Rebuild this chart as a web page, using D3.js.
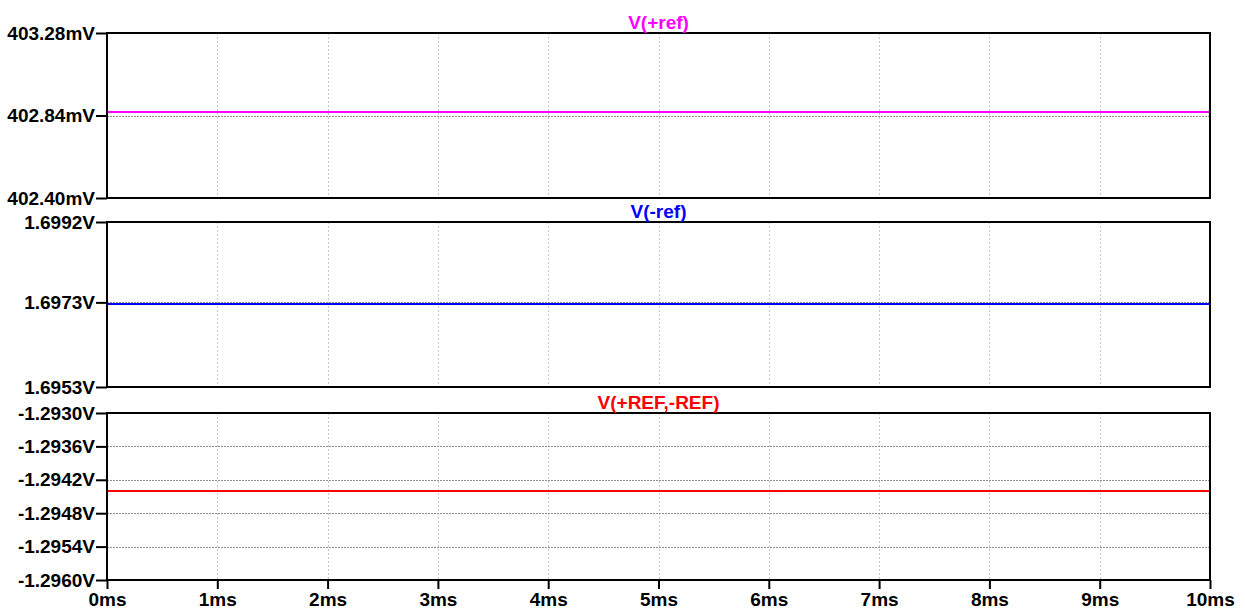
<!DOCTYPE html>
<html><head><meta charset="utf-8">
<script src="https://cdn.jsdelivr.net/npm/d3@7"></script>
<style>
html,body{margin:0;padding:0;background:#fff;}
svg{display:block;font-family:"Liberation Sans",Arial,sans-serif;font-weight:bold;}
</style></head>
<body>
<svg id="c" width="1245" height="613"></svg>
<script>
// Data
const timeMs = [0, 10];
const xTicks = [0,1,2,3,4,5,6,7,8,9,10];
const vPosRef = [402.857, 402.857];          // mV
const vNegRef = [1.69726, 1.69726];          // V
const vDiff = [-1.29441, -1.29441];          // V
const titles = ["V(+ref)", "V(-ref)", "V(+REF,-REF)"];
const colors = ["#ff00ff", "#0000ff", "#ff0000"];
const yTicks1 = [402.40, 402.84, 403.28];
const yTickLabels1 = ["402.40mV", "402.84mV", "403.28mV"];
const yTicks2 = [1.6953, 1.6973, 1.6992];
const yTickLabels2 = ["1.6953V", "1.6973V", "1.6992V"];
const yTicks3 = [-1.2960, -1.2954, -1.2948, -1.2942, -1.2936, -1.2930];
const yTickLabels3 = ["-1.2960V", "-1.2954V", "-1.2948V", "-1.2942V", "-1.2936V", "-1.2930V"];

const FS = "19px";
const FF = '"Liberation Sans",Arial,sans-serif';
const svg = d3.select("#c");
const L = 107, R = 1210;
const x = d3.scaleLinear().domain([0, 10]).range([L, R]);

const panels = [
  {top: 33, bottom: 198, domain: [402.40, 403.28], ticks: yTicks1, labels: yTickLabels1, vals: vPosRef},
  {top: 222, bottom: 387, domain: [1.6953, 1.6992], ticks: yTicks2, labels: yTickLabels2, vals: vNegRef},
  {top: 413, bottom: 580, domain: [-1.2960, -1.2930], ticks: yTicks3, labels: yTickLabels3, vals: vDiff}
];

panels.forEach((p, i) => {
  const y = d3.scaleLinear().domain(p.domain).range([p.bottom, p.top]);
  const g = svg.append("g");
  // vertical grid
  g.selectAll(".vg").data(xTicks.slice(1, -1)).join("line")
    .attr("x1", d => Math.round(x(d)) + 0.5).attr("x2", d => Math.round(x(d)) + 0.5)
    .attr("y1", p.top).attr("y2", p.bottom)
    .attr("stroke", "#c8c8c8").attr("stroke-width", 1).attr("stroke-dasharray", "2,2");
  // horizontal grid
  g.selectAll(".hg").data(p.ticks.slice(1, -1)).join("line")
    .attr("x1", L).attr("x2", R)
    .attr("y1", d => Math.round(y(d)) + 0.5).attr("y2", d => Math.round(y(d)) + 0.5)
    .attr("stroke", "#909090").attr("stroke-width", 1).attr("stroke-dasharray", "2,1");
  // data line
  const line = d3.line().x((d, j) => x(timeMs[j])).y(d => Math.round(y(d)));
  g.append("path").datum(p.vals).attr("d", line)
    .attr("fill", "none").attr("stroke", colors[i]).attr("stroke-width", 2)
    .attr("shape-rendering", "crispEdges");
  // frame
  g.append("rect").attr("x", L).attr("y", p.top).attr("width", R - L).attr("height", p.bottom - p.top)
    .attr("fill", "none").attr("stroke", "#000").attr("stroke-width", 2);
  // y axis
  const ax = d3.axisLeft(y).tickValues(p.ticks).tickFormat((d, k) => p.labels[k]).tickSize(11).tickPadding(1);
  const ag = g.append("g").attr("transform", `translate(${L},0)`).call(ax);
  ag.select(".domain").remove();
  ag.selectAll(".tick line").attr("stroke", "#000").attr("stroke-width", 2);
  ag.selectAll(".tick text").attr("fill", "#000").style("font-size", FS)
    .style("font-family", FF).style("font-weight", "bold");
  // title
  g.append("text").attr("x", (L + R) / 2).attr("y", p.top - 4).attr("text-anchor", "middle")
    .attr("fill", colors[i]).style("font-size", FS).text(titles[i]);
});

// x axis
const xa = d3.axisBottom(x).tickValues(xTicks).tickFormat(d => d + "ms").tickSize(9).tickPadding(4);
const xg = svg.append("g").attr("transform", `translate(0,580)`).call(xa);
xg.select(".domain").remove();
xg.selectAll(".tick line").attr("stroke", "#000").attr("stroke-width", 2);
xg.selectAll(".tick text").attr("fill", "#000").style("font-size", FS)
  .style("font-family", FF).style("font-weight", "bold");
</script>
</body></html>
